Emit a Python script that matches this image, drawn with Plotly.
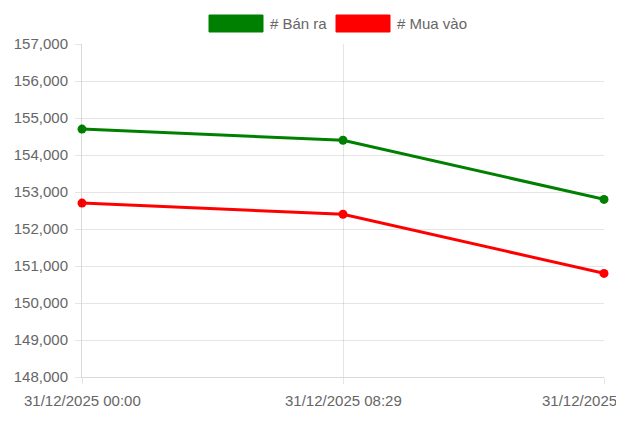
import plotly.graph_objects as go

# ---- data ----
time_labels = ["31/12/2025 00:00", "31/12/2025 08:29", "31/12/2025"]
sell_name = "# Bán ra"
buy_name = "# Mua vào"
sell_values = [154700, 154400, 152800]
buy_values = [152700, 152400, 150800]
y_ticks = list(range(148000, 157001, 1000))

sell_color = "#008000"
buy_color = "#ff0000"
font_color = "#666666"
grid_color = "rgba(0,0,0,0.1)"

# page body has an 8px margin; compensate so the plot sits where the reference has it
OFF = 8
W, H = 624 - OFF, 423 - OFF
L, R, T, B = 82 - OFF, 20, 44 - OFF, 46
PW, PH = W - L - R, H - T - B

def px(xp):
    return (xp - OFF - L) / PW

def py(yp):
    return (H - B - (yp - OFF)) / PH

xs = list(range(len(time_labels)))

fig = go.Figure()
fig.add_trace(go.Scatter(x=xs, y=sell_values, mode="lines+markers", name=sell_name,
                         line=dict(color=sell_color, width=3), cliponaxis=False,
                         marker=dict(color=sell_color, size=9), showlegend=False))
fig.add_trace(go.Scatter(x=xs, y=buy_values, mode="lines+markers", name=buy_name,
                         line=dict(color=buy_color, width=3), cliponaxis=False,
                         marker=dict(color=buy_color, size=9), showlegend=False))

font = dict(family="Liberation Sans, Arial, sans-serif", size=15, color=font_color)

shapes = []
annotations = []
# legend (drawn manually to mimic box style)
legend_items = [(sell_name, sell_color, 209, 263, 268), (buy_name, buy_color, 336, 390, 395)]
for name, color, bx0, bx1, tx in legend_items:
    shapes.append(dict(type="rect", xref="paper", yref="paper",
                       x0=px(bx0), x1=px(bx1), y0=py(32), y1=py(15),
                       fillcolor=color, line=dict(color=color, width=1)))
    annotations.append(dict(text=name, xref="paper", yref="paper", x=px(tx), y=py(23.5),
                            xanchor="left", yanchor="middle", showarrow=False, font=font))

# x tick labels
for i, lab in enumerate(time_labels):
    last = i == len(time_labels) - 1
    annotations.append(dict(text=lab, xref="x", yref="paper", x=xs[i], y=0,
                            xanchor="right" if last else "center", yanchor="top",
                            xshift=15 if last else 0, yshift=-13,
                            showarrow=False, font=font))

fig.update_layout(
    width=W, height=H,
    margin=dict(l=L, r=R, t=T, b=B, autoexpand=False),
    paper_bgcolor="white", plot_bgcolor="white",
    font=font,
    shapes=shapes,
    annotations=annotations,
    xaxis=dict(range=[0, len(xs) - 1], tickvals=xs, ticktext=["" for _ in xs],
               showgrid=True, gridcolor=grid_color, gridwidth=1,
               ticks="outside", ticklen=6, tickcolor=grid_color, automargin=False,
               showline=True, linecolor="rgba(0,0,0,0.15)", zeroline=False, fixedrange=True),
    yaxis=dict(range=[148000, 157000], tickvals=y_ticks, tickformat=",",
               showgrid=True, gridcolor=grid_color, gridwidth=1,
               ticks="outside", ticklen=6, tickcolor=grid_color,
               ticklabelstandoff=4, automargin=False,
               showline=True, linecolor="rgba(0,0,0,0.15)", zeroline=False,
               tickfont=font, fixedrange=True),
)

fig.write_html("out.html", config={"displayModeBar": False})
